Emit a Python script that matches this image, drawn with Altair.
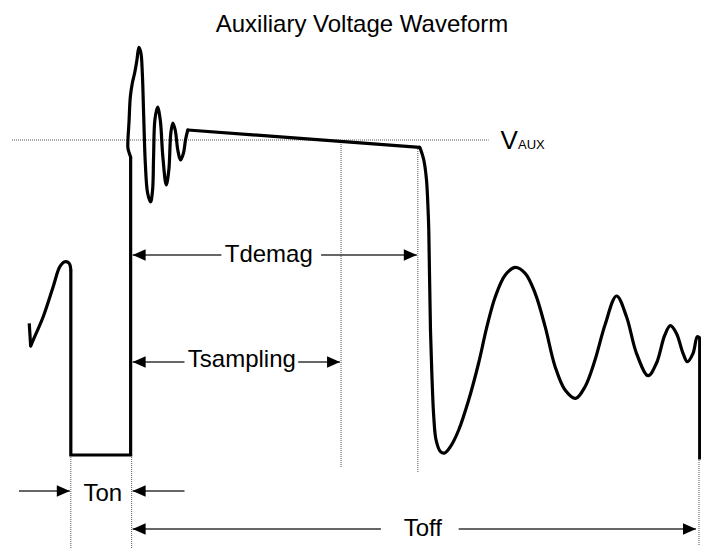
import altair as alt
import pandas as pd

# ---------------- waveform (time t, level v in drawing units, v grows downward) ----------
lin_segments = {
    "tick":    ([29.3, 30.7], [323.3, 346]),
    "pulse":   ([71, 71, 131, 131], [270, 455, 455, 157]),
    "plateau": ([188.3, 421], [130, 147.3]),
    "end":     ([701.7, 701.7, 709], [338, 458, 458]),
}

smooth_start_t = [30.7, 33.3, 43.3, 53.3, 60, 65, 69.3, 71]
smooth_start_v = [346, 340, 316.7, 286.7, 266.7, 261.7, 263.3, 270]

ring_t = [131, 128.3, 128.3, 129.3, 130.7, 132.7, 135, 137.3, 139.3, 141.3, 142.7, 144,
          145.7, 148, 151, 153, 154, 155.3, 158, 160.7, 163.3, 166.7, 169.3, 171.3,
          173.3, 175.7, 178.3, 181, 184, 186, 188.3]
ring_v = [157, 148.3, 140, 123, 96.7, 83, 73, 60, 47.3, 53, 73, 113,
          163, 193, 202, 190, 157, 120, 107, 120, 157, 185, 170, 133,
          123, 130, 150, 160, 153, 140, 130]

fall_t = [421, 425, 427.7, 429.3, 430, 431.7, 433.3, 435, 437.3, 441.7, 446, 451.7, 460,
          470, 480, 488.3, 496.7, 506.7, 516.7, 526.7, 536.7, 546.7, 556.7, 566.7, 577.3,
          586.7, 596.7, 606.7, 618.3, 628.3, 638.3, 650, 658.3, 666.7, 672.3, 678.3, 685,
          689.3, 695, 699.3, 701.7]
fall_v = [147.3, 160, 180, 210, 230, 330, 380, 417, 440, 451.7, 453, 446.7, 430,
          400, 363, 326.7, 296.7, 275, 267.3, 273.3, 293.3, 326.7, 366.7, 390, 398.3,
          386.7, 360, 325, 296, 316.7, 353.3, 375.7, 363.3, 335, 325.7, 333.3, 353.3,
          361.7, 353.3, 336.7, 338]

# ---------------- dotted guides ----------------
guide_x1 = [12, 71, 132, 342, 419, 701]
guide_x2 = [490, 71, 132, 342, 419, 701]
guide_y1 = [140, 455, 455, 142, 147, 458]
guide_y2 = [140, 556, 556, 467, 473, 546]

# ---------------- dimension arrows ----------------
shaft_x1 = [133, 322, 133, 299, 133, 460, 19, 133]
shaft_x2 = [222, 418, 185, 341, 382, 698, 70, 185]
shaft_y = [255, 255, 362, 362, 529, 529, 491, 491]

head_x = [133, 418, 133, 341, 133, 698, 70, 133]
head_y = [255, 255, 362, 362, 529, 529, 491, 491]
head_dir = ["left", "right", "left", "right", "left", "right", "right", "left"]

# ---------------- labels ----------------
label_text = ["Auxiliary Voltage Waveform", "Tdemag", "Tsampling", "Ton", "Toff", "V"]
label_x = [363, 269.5, 242.5, 103, 424, 502]
label_y = [32, 262, 367, 501, 536, 149]
label_align = ["center", "center", "center", "center", "center", "left"]
label_size = [24, 24, 24, 24, 24, 26]

sub_text = ["AUX"]
sub_x = [519.5]
sub_y = [149]

# ---------------- build tables ----------------
lin_rows = []
for name, (ts, vs) in lin_segments.items():
    for i, (t, v) in enumerate(zip(ts, vs)):
        lin_rows.append({"seg": name, "o": i, "t": t, "v": v})
lin_df = pd.DataFrame(lin_rows)

smooth_rows = []
for name, ts, vs in [("start", smooth_start_t, smooth_start_v),
                     ("ring", ring_t, ring_v),
                     ("fall", fall_t, fall_v)]:
    for i, (t, v) in enumerate(zip(ts, vs)):
        smooth_rows.append({"seg": name, "o": i, "t": t, "v": v})
smooth_df = pd.DataFrame(smooth_rows)

guide_df = pd.DataFrame({"x1": guide_x1, "x2": guide_x2, "y1": guide_y1, "y2": guide_y2})
shaft_df = pd.DataFrame({"x1": shaft_x1, "x2": shaft_x2, "y": shaft_y})
head_df = pd.DataFrame({"x": head_x, "y": head_y, "dir": head_dir})
label_df = pd.DataFrame({"text": label_text, "x": label_x, "y": label_y,
                         "align": label_align, "size": label_size})
sub_df = pd.DataFrame({"text": sub_text, "x": sub_x, "y": sub_y})

xs = alt.Scale(domain=[8, 703], nice=False, zero=False)
ys = alt.Scale(domain=[8, 548], nice=False, zero=False, reverse=True)

X = lambda f: alt.X(f, type="quantitative", scale=xs, axis=None)
Y = lambda f: alt.Y(f, type="quantitative", scale=ys, axis=None)

guides = alt.Chart(guide_df).mark_rule(
    strokeDash=[1, 1], strokeWidth=1, color="#555555"
).encode(x=X("x1"), x2="x2", y=Y("y1"), y2="y2")

wave_lin = alt.Chart(lin_df).mark_line(
    color="black", strokeWidth=3.2, strokeJoin="miter", strokeCap="butt"
).encode(x=X("t"), y=Y("v"), detail="seg:N", order="o:Q")

wave_smooth = alt.Chart(smooth_df).mark_line(
    color="black", strokeWidth=3.2, interpolate="catmull-rom",
    strokeJoin="round", strokeCap="round"
).encode(x=X("t"), y=Y("v"), detail="seg:N", order="o:Q")

shafts = alt.Chart(shaft_df).mark_rule(color="#333333", strokeWidth=1.3).encode(
    x=X("x1"), x2="x2", y=Y("y")
)

heads = alt.Chart(head_df).mark_point(
    filled=True, color="black", opacity=1, size=169, strokeWidth=0
).encode(
    x=X("x"), y=Y("y"),
    shape=alt.Shape("dir:N", legend=None, scale=alt.Scale(
        domain=["left", "right"],
        range=["M0,0L2,-0.9L2,0.9Z", "M0,0L-2,-0.9L-2,0.9Z"])),
)

labels = alt.Chart(label_df).mark_text(
    font="Liberation Sans", color="black", baseline="alphabetic"
).encode(
    x=X("x"), y=Y("y"), text="text:N",
    size=alt.Size("size:Q", scale=None, legend=None),
).transform_filter("datum.align == 'center'")

labels_left = alt.Chart(label_df).mark_text(
    font="Liberation Sans", color="black", baseline="alphabetic", align="left"
).encode(
    x=X("x"), y=Y("y"), text="text:N",
    size=alt.Size("size:Q", scale=None, legend=None),
).transform_filter("datum.align == 'left'")

subs = alt.Chart(sub_df).mark_text(
    font="Liberation Sans", color="black", baseline="alphabetic", align="left", fontSize=13
).encode(x=X("x"), y=Y("y"), text="text:N")

chart = alt.layer(
    guides, wave_lin, wave_smooth, shafts, heads, labels, labels_left, subs
).properties(
    width=693, height=540, padding=0, autosize="none", background="white"
).configure_view(stroke=None)

chart.save("out.html", embed_options={"renderer": "svg", "actions": False})
